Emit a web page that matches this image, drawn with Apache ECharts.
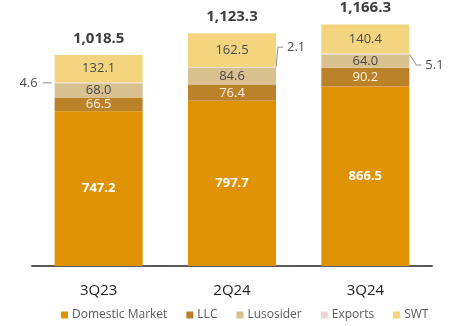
<!DOCTYPE html>
<html><head><meta charset="utf-8">
<script src="https://cdn.jsdelivr.net/npm/echarts@6/dist/echarts.min.js"></script>
<style>html,body{margin:0;padding:0;background:#fff}#c{width:459px;height:326px}</style>
</head><body><div id="c"></div>
<script>
// ---- data ----
const categories = ['3Q23', '2Q24', '3Q24'];
const seriesNames = ['Domestic Market', 'LLC', 'Lusosider', 'Exports', 'SWT'];
const domestic = [747.2, 797.7, 866.5];
const llc = [66.5, 76.4, 90.2];
const lusosider = [68.0, 84.6, 64.0];
const exportsV = [4.6, 2.1, 5.1];
const swt = [132.1, 162.5, 140.4];
const totals = [1018.5, 1123.3, 1166.3];

// ---- styling ----
const FONT = '"Open Sans", "DejaVu Sans", sans-serif';
const colors = ['#DF9202', '#BC8229', '#D8C18F', '#E9D8D7', '#F3D47F'];
const labelColors = ['#FFFFFF', '#FBF1DC', '#4A4A4A', '#4A4A4A', '#4A4A4A'];
const labelWeights = ['bold', 'normal', 'normal', 'normal', 'normal'];
// callout geometry for the small Exports values (side, diagonal dx, dy)
const exportsCallout = [
  { side: 'left' },
  { side: 'right', dx: 2, dy: -20 },
  { side: 'right', dx: 7, dy: 11 }
];
const BAR_FRAC = 0.66;

const fmt1 = v => v.toLocaleString('en-US', { minimumFractionDigits: 1, maximumFractionDigits: 1 });

const valuesList = [domestic, llc, lusosider, exportsV, swt];
const barSeries = seriesNames.map((name, k) => ({
  name,
  type: 'bar',
  stack: 'total',
  barWidth: (BAR_FRAC * 100) + '%',
  data: valuesList[k],
  itemStyle: { color: colors[k] },
  label: {
    show: k !== 3,
    position: 'inside',
    color: labelColors[k],
    fontWeight: labelWeights[k],
    fontSize: 13,
    fontFamily: FONT,
    formatter: p => fmt1(p.value)
  },
  emphasis: { disabled: true },
  silent: true
}));

const totalsSeries = {
  type: 'custom',
  silent: true,
  data: categories.map((c, i) => [i, totals[i]]),
  encode: { x: 0, y: 1 },
  renderItem(params, api) {
    const i = api.value(0);
    const p = api.coord([i, totals[i]]);
    return {
      type: 'text',
      style: {
        text: fmt1(totals[i]), x: p[0], y: p[1] - 9,
        align: 'center', verticalAlign: 'bottom',
        fill: '#3E3E3E', font: 'bold 15px ' + FONT
      }
    };
  }
};

const calloutSeries = {
  type: 'custom',
  silent: true,
  data: categories.map((c, i) => [i, domestic[i] + llc[i] + lusosider[i] + exportsV[i] / 2]),
  encode: { x: 0, y: 1 },
  renderItem(params, api) {
    const i = api.value(0);
    const p = api.coord([i, api.value(1)]);
    const half = api.size([1, 0])[0] * BAR_FRAC / 2;
    const c = exportsCallout[i];
    const lineStyle = { stroke: '#8C8C8C', lineWidth: 1, fill: null };
    const txtStyle = { text: fmt1(exportsV[i]), verticalAlign: 'middle', fill: '#4A4A4A', font: '13px ' + FONT };
    if (c.side === 'left') {
      const x0 = p[0] - half - 3;
      return { type: 'group', children: [
        { type: 'line', shape: { x1: x0, y1: p[1], x2: x0 - 9, y2: p[1] }, style: lineStyle },
        { type: 'text', style: Object.assign({ x: x0 - 14, y: p[1], align: 'right' }, txtStyle) }
      ]};
    }
    const x0 = p[0] + half;
    const x1 = x0 + c.dx, y1 = p[1] + c.dy;
    return { type: 'group', children: [
      { type: 'polyline', shape: { points: [[x0, p[1]], [x1, y1], [x1 + 5, y1]] }, style: lineStyle },
      { type: 'text', style: Object.assign({ x: x1 + 9, y: y1, align: 'left' }, txtStyle) }
    ]};
  }
};

const chart = echarts.init(document.getElementById('c'), null, { renderer: 'canvas' });
chart.setOption({
  animation: false,
  backgroundColor: '#FFFFFF',
  grid: { left: 32, right: 27, top: 17.4, bottom: 60 },
  xAxis: {
    type: 'category',
    data: categories,
    axisLine: { lineStyle: { color: '#5A5A5A', width: 2 } },
    axisTick: { show: false },
    axisLabel: { color: '#222222', fontSize: 15, fontFamily: FONT, margin: 17 }
  },
  yAxis: { type: 'value', min: 0, max: 1200, show: false, splitLine: { show: false } },
  legend: {
    data: seriesNames,
    left: 56, top: 304,
    icon: 'rect', itemWidth: 7, itemHeight: 7, itemGap: 19,
    textStyle: { color: '#595959', fontSize: 12, fontFamily: FONT, padding: [0, 0, 0, -1] },
    selectedMode: false
  },
  series: [...barSeries, totalsSeries, calloutSeries]
});
</script>
</body></html>
